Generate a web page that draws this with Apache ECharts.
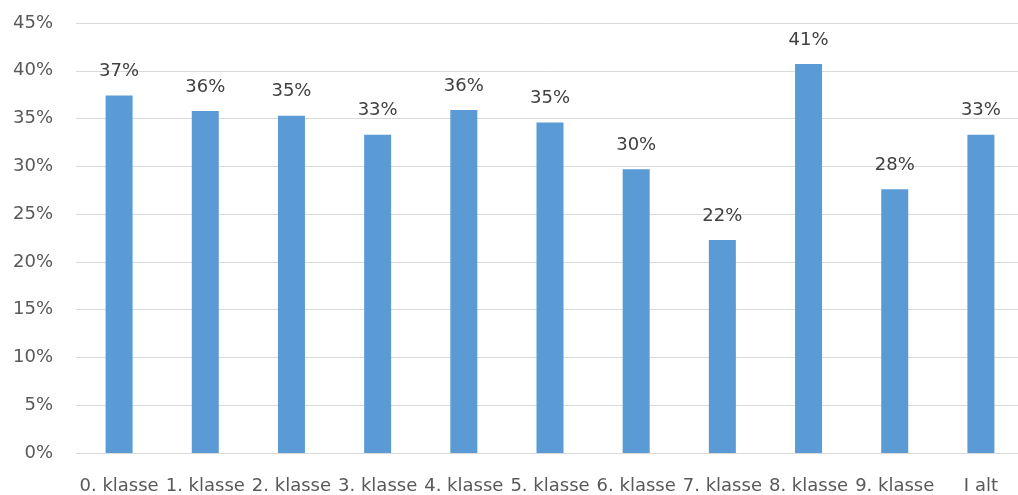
<!DOCTYPE html>
<html>
<head>
<meta charset="utf-8">
<script src="https://cdn.jsdelivr.net/npm/echarts@6/dist/echarts.min.js"></script>
<style>
  html, body { margin: 0; padding: 0; background: #fff; overflow: hidden; }
  #chart { width: 1018px; height: 495px; }
</style>
</head>
<body>
<div id="chart"></div>
<script>
// Share per grade level (percent)
const categories = ['0. klasse', '1. klasse', '2. klasse', '3. klasse', '4. klasse',
  '5. klasse', '6. klasse', '7. klasse', '8. klasse', '9. klasse', 'I alt'];
const values = [37.4, 35.8, 35.3, 33.3, 35.9, 34.6, 29.7, 22.3, 40.7, 27.6, 33.3];
const yTicks = [0, 5, 10, 15, 20, 25, 30, 35, 40, 45];

const font = '"DejaVu Sans", sans-serif';
const chart = echarts.init(document.getElementById('chart'));
chart.setOption({
  animation: false,
  // plot area runs slightly past the right edge of the canvas
  grid: { left: 76, width: 948, top: 23, bottom: 42, containLabel: false, outerBoundsMode: 'none' },
  xAxis: {
    type: 'category',
    data: categories,
    axisLine: { lineStyle: { color: '#d9d9d9', width: 1 } },
    axisTick: { show: false },
    axisLabel: { color: '#595959', fontSize: 18, fontFamily: font, margin: 24, interval: 0 }
  },
  yAxis: {
    type: 'value',
    min: yTicks[0],
    max: yTicks[yTicks.length - 1],
    interval: 5,
    axisLine: { show: false },
    axisTick: { show: false },
    splitLine: { lineStyle: { color: '#d9d9d9', width: 1 } },
    axisLabel: { color: '#595959', fontSize: 18, fontFamily: font, margin: 23,
      formatter: v => v + '%' }
  },
  series: [{
    type: 'bar',
    data: values,
    barWidth: 27,
    itemStyle: { color: '#5b9bd5' },
    label: {
      show: true,
      position: 'top',
      distance: 15,
      color: '#404040',
      fontSize: 18,
      fontFamily: font,
      formatter: p => Math.round(p.value) + '%'
    }
  }]
});
</script>
</body>
</html>
